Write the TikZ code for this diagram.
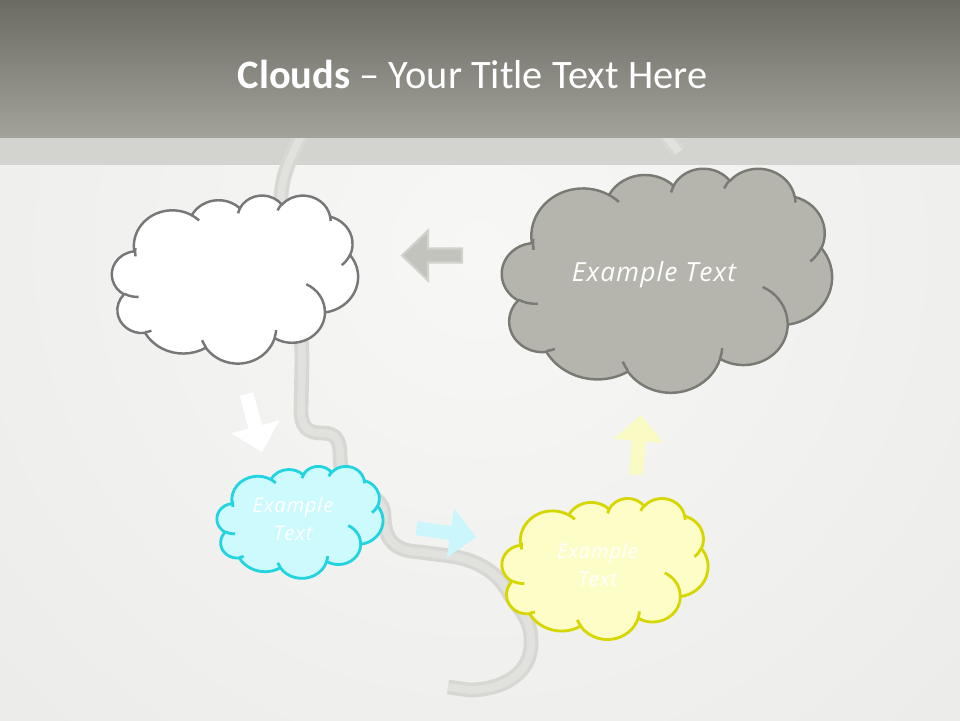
\documentclass[tikz,border=0pt]{standalone}
\usepackage{fontspec}
\setmainfont{Carlito}
\newfontfamily\cloudfont[LetterSpace=4]{Open Sans}

\definecolor{barTop}{HTML}{6B6B64}
\definecolor{barBottom}{HTML}{A3A29A}
\definecolor{band}{HTML}{D3D4CF}
\definecolor{bgInner}{HTML}{F7F7F5}
\definecolor{bgOuter}{HTML}{E2E2E0}
\definecolor{roadEdge}{HTML}{D7D7D3}
\definecolor{roadMid}{HTML}{E1E1DE}
\definecolor{cloudGray}{HTML}{B5B5AD}
\definecolor{cloudGrayLine}{HTML}{7A7A74}
\definecolor{cloudWhiteLine}{HTML}{777777}
\definecolor{cloudCyan}{HTML}{CCFAFD}
\definecolor{cloudCyanLine}{HTML}{22D3E0}
\definecolor{cloudYellow}{HTML}{FDFDC8}
\definecolor{cloudYellowLine}{HTML}{D6D600}
\definecolor{arrowGray}{HTML}{C3C3BD}
\definecolor{arrowGrayEdge}{HTML}{D2D2CD}
\definecolor{arrowCyan}{HTML}{CBF7FC}
\definecolor{arrowYellow}{HTML}{FAFAC4}

% one arc of the cloud outline: x radius, y radius, start, sweep (true angles)
\newcommand\pparc[4]{arc[x radius=#1, y radius=#2,
  start angle={atan2(#1*sin(#3),#2*cos(#3))},
  delta angle={mod(atan2(#1*sin(#3+#4),#2*cos(#3+#4))-atan2(#1*sin(#3),#2*cos(#3))+720,360)}]}

\newcommand\cloudoutline{(39,143.7)
  \pparc{67.53}{91.9}{-190.4875}{123.7805}
  \pparc{53.33}{72.67}{-144.1024}{89.9452}
  \pparc{43.65}{59.45}{-145.8079}{99.7230}
  \pparc{48.57}{65.95}{-130.9861}{117.2417}
  \pparc{53.33}{72.73}{-78.7089}{109.0269}
  \pparc{67.75}{92.2}{-46.2673}{130.2690}
  \pparc{57.85}{78.67}{0.6250}{114.0333}
  \pparc{67.52}{92.15}{22.4516}{115.1726}
  \pparc{77.2}{105.43}{66.2426}{75.7110}
  \pparc{43.6}{59.18}{-274.9421}{146.7356}
  \pparc{43.45}{59.45}{-246.8285}{152.5189} -- cycle}

\newcommand\cloudcreases{(46.93,261.77) \pparc{43.45}{59.45}{86.7420}{26.4295}
  (69.28,348.99) \pparc{43.6}{59.18}{73.6105}{11.4475}
  (164.78,390.9) \pparc{67.52}{92.15}{137.6242}{14.0811}
  (288.27,347.51) \pparc{67.52}{92.15}{6.4533}{15.9984}
  (341.29,229.54) \pparc{57.85}{78.67}{-70.2924}{70.9174}
  (417.98,153.54) \pparc{53.33}{72.73}{30.3180}{27.7515}
  (383.24,54.26) \pparc{48.57}{65.95}{-13.7443}{14.8589}
  (290.78,39.52) \pparc{48.57}{65.95}{-149.1815}{18.1954}
  (221.41,47.2) \pparc{43.65}{59.45}{-163.4943}{17.6864}
  (140,51.92) \pparc{67.53}{91.9}{-66.7070}{12.3194}
  (41.27,157.89) \pparc{67.53}{91.9}{-190.4875}{18.0600}}

% name, left, top, width, height, style
\newcommand\ppcloud[6]{%
  \begin{scope}[shift={(#2,#3)}, xscale=#4/432, yscale=#5/432]
    \filldraw[#6] \cloudoutline;
    \draw[#6, fill=none] \cloudcreases;
    \coordinate (#1) at (216,216);
  \end{scope}}

\tikzset{
  road/.style={draw=roadEdge, double=roadMid, double distance=4.4pt, line width=2pt},
  whitecloud/.style={fill=white, draw=cloudWhiteLine, line width=1.4pt, line join=round},
  graycloud/.style={fill=cloudGray, draw=cloudGrayLine, line width=1.4pt, line join=round},
  cyancloud/.style={fill=cloudCyan, draw=cloudCyanLine, line width=1.6pt, line join=round},
  yellowcloud/.style={fill=cloudYellow, draw=cloudYellowLine, line width=1.6pt, line join=round},
  cloudtext/.style={text=white, inner sep=0pt, align=center},
  bigtext/.style={font=\cloudfont\itshape\fontsize{15}{18}\selectfont},
  smalltext/.style={font=\cloudfont\itshape\fontsize{11.5}{16}\selectfont},
  blockarrow/.pic={
    \path[pic actions] (0,-7) -- (34,-7) -- (34,-25) -- (60,0) -- (34,25) -- (34,7) -- (0,7) -- cycle;
  }
}

\begin{document}
\begin{tikzpicture}[x=0.02cm, y=-0.02cm]
  \useasboundingbox (0,0) rectangle (960,720);

  % background
  \fill[bgOuter] (0,0) rectangle (960,720);
  \begin{scope}
    \clip (0,0) rectangle (960,720);
    \shade[inner color=bgInner, outer color=bgOuter] (480,250) circle (1250);
  \end{scope}
  \fill[band] (0,137) rectangle (960,165);

  % the road behind the clouds
  \draw[road] (318,100) .. controls (302,140) and (281,165) .. (281,200)
    .. controls (281,260) and (302,300) .. (302,360) -- (301,410)
    .. controls (301,428) and (308,433) .. (322,433)
    .. controls (336,433) and (340,440) .. (340,455) -- (341,470)
    .. controls (341,490) and (384,490) .. (384,515)
    .. controls (384,545) and (400,551) .. (420,552) -- (450,556)
    .. controls (480,560) and (500,575) .. (510,595)
    .. controls (520,610) and (531,620) .. (531,640)
    .. controls (533,675) and (500,690) .. (470,690) -- (448,687);
  \draw[road] (650,116) -- (679,152);

  % title bar
  \shade[top color=barTop, bottom color=barBottom] (0,0) rectangle (960,137);
  \node[text=white, inner sep=0pt, anchor=base, font=\fontsize{23}{27}\selectfont]
    (title) at (472.5,88.3) {\textbf{Clouds} – Your Title Text Here};

  % clouds
  \ppcloud{wisp}{112}{195}{246}{168}{whitecloud}
  \ppcloud{storm}{502}{168}{330}{224}{graycloud}
  \ppcloud{sky}{217}{466}{166}{112}{cyancloud}
  \ppcloud{sun}{502}{498}{206}{141}{yellowcloud}

  \node[cloudtext, bigtext, anchor=base] (stormtext) at (654,281.7) {Example Text};
  \node[cloudtext, smalltext] (skytext) at (293,518.5) {Example\\Text};
  \node[cloudtext, smalltext] (suntext) at (597.5,565) {Example\\Text};

  % arrows
  \pic[fill=arrowGray, draw=arrowGrayEdge, line width=1.2pt, rotate=180] at (462,255.5) {blockarrow};
  \pic[fill=white, rotate=-75] at (246.5,394) {blockarrow};
  \pic[fill=arrowCyan, rotate=-8.5] at (416.7,528.1) {blockarrow};
  \pic[fill=arrowYellow, rotate=85] at (635.8,474.8) {blockarrow};
\end{tikzpicture}
\end{document}
